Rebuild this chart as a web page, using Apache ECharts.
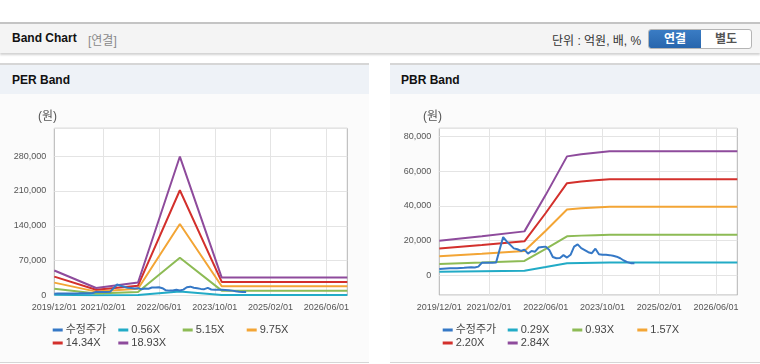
<!DOCTYPE html>
<html>
<head>
<meta charset="utf-8">
<script src="https://cdn.jsdelivr.net/npm/echarts@6/dist/echarts.min.js"></script>
<style>
  html,body{margin:0;padding:0;background:#fff;width:760px;height:364px;overflow:hidden;
    font-family:'Liberation Sans','Noto Sans CJK KR',Arial,sans-serif;}
  .hdr{position:absolute;left:0;top:22px;width:760px;height:29px;background:#f4f4f4;
    border-top:2px solid #c4c4c4;box-shadow:0 2px 2px rgba(0,0,0,0.18);}
  .hdr .t{position:absolute;left:12px;top:7px;font-size:12px;font-weight:bold;color:#111;}
  .hdr .s{position:absolute;left:88px;top:7px;font-size:12px;color:#8a8a8a;}
  .hdr .u{position:absolute;left:552px;top:7px;font-size:12px;color:#333;}
  .btns{position:absolute;left:648px;top:5px;width:102px;height:18px;border:1px solid #b5b5b5;border-radius:3px;overflow:hidden;background:#fff;}
  .btns .b1{position:absolute;left:0;top:0;width:52px;height:18px;background:linear-gradient(#3a7cc4,#2866ad);color:#fff;font-weight:bold;font-size:12px;text-align:center;line-height:18px;}
  .btns .b2{position:absolute;left:52px;top:0;width:50px;height:18px;color:#555;font-weight:bold;font-size:12px;text-align:center;line-height:18px;}
  .panel{position:absolute;top:63px;height:297px;background:#fbfbfb;border-top:2px solid #d6d6d6;border-bottom:1px solid #d6d6d6;}
  .panel .bar{position:absolute;left:0;top:0;right:0;height:29px;background:#eef2f7;}
  .panel .bar span{position:absolute;left:12px;top:8px;font-size:12px;font-weight:bold;color:#111;}
  #chart{position:absolute;left:0;top:0;width:760px;height:364px;}
</style>
</head>
<body>
<div class="hdr">
  <div class="t">Band Chart</div><div class="s">[연결]</div>
  <div class="u">단위 : 억원, 배, %</div>
  <div class="btns"><div class="b1">연결</div><div class="b2">별도</div></div>
</div>
<div class="panel" style="left:0;width:369px;"><div class="bar"><span>PER Band</span></div></div>
<div class="panel" style="left:390px;width:370px;"><div class="bar"><span style="left:11px">PBR Band</span></div></div>
<div id="chart"></div>
<script>
// x-axis: monthly categories 2019/12 .. 2026/12
const startYear = 2019, startMonth = 12, monthCount = 85;
const categories = [];
for (let i = 0; i < monthCount; i++) {
  const m = startMonth - 1 + i;
  const y = startYear + Math.floor(m / 12);
  const mm = (m % 12) + 1;
  categories.push(y + '/' + (mm < 10 ? '0' + mm : mm) + '/01');
}
const xLabelDates = ['2019/12/01','2021/02/01','2022/06/01','2023/10/01','2025/02/01','2026/06/01'];

// 수정주가 (monthly, 2019/12 .. 2024/07)
const stockPrice = [3600,3800,3900,4000,4000,4100,4200,4300,4500,4700,4500,5000,7200,7200,7200,7200,7300,14700,22000,19500,
  17500,15500,15000,14000,14800,12500,14000,13600,16000,16300,16500,14600,10500,9800,10000,11600,10200,11800,16500,17800,
  15600,14500,13300,12700,15300,12100,11800,11800,11600,11200,10700,9800,8500,7600,7000,6900];

// PER band
const perDates = ['2019/12/01','2020/12/01','2021/12/01','2022/12/01','2023/12/01','2026/12/01'];
const perNames = ['0.56X','5.15X','9.75X','14.34X','18.93X'];
const per056  = [1484, 448, 773, 8260, 1064, 1064];
const per515  = [13648, 4120, 7107, 75963, 9785, 9785];
const per975  = [25838, 7800, 13455, 143813, 18525, 18525];
const per1434 = [38001, 11472, 19789, 211515, 27246, 27246];
const per1893 = [50165, 15144, 26123, 279218, 35967, 35967];
const perYTicks = [0, 70000, 140000, 210000, 280000];

// PBR band
const pbrDates = ['2019/12/01','2020/12/01','2021/12/01','2022/06/01','2022/12/01','2023/04/01','2023/08/01','2023/12/01','2026/12/01'];
const pbrNames = ['0.29X','0.93X','1.57X','2.20X','2.84X'];
const pbr029 = [2024, 2291, 2581, 4727, 6989, 7120, 7207, 7294, 7294];
const pbr093 = [6491, 7347, 8277, 15159, 22413, 22832, 23111, 23390, 23390];
const pbr157 = [10959, 12403, 13973, 25591, 37837, 38544, 39015, 39486, 39486];
const pbr220 = [15356, 17380, 19580, 35860, 53020, 54010, 54670, 55330, 55330];
const pbr284 = [19823, 22436, 25276, 46292, 68444, 69722, 70574, 71426, 71426];
const pbrYTicks = [0, 20000, 40000, 60000, 80000];

const colors = {price:'#3578c6', b1:'#22abc6', b2:'#8dbb55', b3:'#f3a535', b4:'#d3302c', b5:'#8e4b9c'};
const FONT = "'Liberation Sans','Noto Sans CJK KR',Arial,sans-serif";

const labelIdx = xLabelDates.map(d => categories.indexOf(d));
const showAt = (i) => labelIdx.indexOf(i) >= 0;

function xAxis(gi) {
  return {
    type:'category', gridIndex:gi, data:categories, boundaryGap:false,
    axisLine:{show:false}, axisTick:{show:false},
    axisLabel:{interval:(i)=>showAt(i), color:'#555', fontSize:9, fontFamily:FONT, margin:8},
    splitLine:{show:true, interval:(i)=>showAt(i) && i>0, lineStyle:{color:'#e4e4e4', width:1}}
  };
}
function fmt(v){ return v.toLocaleString('en-US'); }

const pairs = (dates, vals) => dates.map((d, i) => [d, vals[i]]);
function band(name, gi, dates, vals, color) {
  return {name, type:'line', xAxisIndex:gi, yAxisIndex:gi, data:pairs(dates, vals), showSymbol:false, symbol:'none',
    lineStyle:{color, width:2}, itemStyle:{color}, emphasis:{disabled:true}, animation:false};
}
const priceData = stockPrice.map((v, i) => [categories[i], v]);

function legend(name, left, top) {
  return {data:[name], left, top, padding:0, itemGap:0, icon:'rect', itemWidth:10, itemHeight:3,
    textStyle:{fontSize:11, color:'#444', fontFamily:FONT, padding:[0,0,0,-2]}, selectedMode:false};
}

const chart = echarts.init(document.getElementById('chart'), null, {renderer:'canvas'});
chart.setOption({
  animation:false,
  backgroundColor:'transparent',
  grid:[
    {left:54.3, top:128.3, width:293, height:167.2, show:true, borderColor:'#b3b3b3', borderWidth:1, backgroundColor:'#fff'},
    {left:439.3, top:128.3, width:298, height:166.7, show:true, borderColor:'#b3b3b3', borderWidth:1, backgroundColor:'#fff'}
  ],
  xAxis:[xAxis(0), xAxis(1)],
  yAxis:[
    {type:'value', gridIndex:0, min:0, max:336000, interval:70000,
      axisLine:{show:false}, axisTick:{show:false},
      axisLabel:{color:'#555', fontSize:9, fontFamily:FONT, margin:8,
        formatter:(v)=> perYTicks.indexOf(v) >= 0 ? fmt(v) : ''},
      splitLine:{lineStyle:{color:'#e4e4e4'}}},
    {type:'value', gridIndex:1, min:-11340, max:84600,
      axisLine:{show:false}, axisTick:{show:false},
      axisLabel:{color:'#555', fontSize:9, fontFamily:FONT, margin:8,
        formatter:(v)=> pbrYTicks.indexOf(v) >= 0 ? fmt(v) : ''},
      splitLine:{lineStyle:{color:'#e4e4e4'}}}
  ],
  graphic:[
    {type:'text', left:38, top:111, style:{text:'(원)', fontSize:12, fill:'#555', fontFamily:FONT}},
    {type:'text', left:423, top:111, style:{text:'(원)', fontSize:12, fill:'#555', fontFamily:FONT}}
  ],
  legend:[
    legend('수정주가', 52.7, 324.5), legend('0.56X', 118.3, 324.5), legend('5.15X', 182.7, 324.5), legend('9.75X', 246.7, 324.5),
    legend('14.34X', 52.7, 337.5), legend('18.93X', 118.3, 337.5),
    legend('수정주가', 442.7, 324.5), legend('0.29X', 507.7, 324.5), legend('0.93X', 572.3, 324.5), legend('1.57X', 637.3, 324.5),
    legend('2.20X', 442.7, 337.5), legend('2.84X', 507.7, 337.5)
  ],
  series:[
    band(perNames[0], 0, perDates, per056, colors.b1),
    band(perNames[1], 0, perDates, per515, colors.b2),
    band(perNames[2], 0, perDates, per975, colors.b3),
    band(perNames[3], 0, perDates, per1434, colors.b4),
    band(perNames[4], 0, perDates, per1893, colors.b5),
    {name:'수정주가', type:'line', xAxisIndex:0, yAxisIndex:0, data:priceData, showSymbol:false, symbol:'none',
      lineStyle:{color:colors.price, width:2}, itemStyle:{color:colors.price}},
    band(pbrNames[0], 1, pbrDates, pbr029, colors.b1),
    band(pbrNames[1], 1, pbrDates, pbr093, colors.b2),
    band(pbrNames[2], 1, pbrDates, pbr157, colors.b3),
    band(pbrNames[3], 1, pbrDates, pbr220, colors.b4),
    band(pbrNames[4], 1, pbrDates, pbr284, colors.b5),
    {name:'수정주가', type:'line', xAxisIndex:1, yAxisIndex:1, data:priceData, showSymbol:false, symbol:'none',
      lineStyle:{color:colors.price, width:2}, itemStyle:{color:colors.price}}
  ]
});
</script>
</body>
</html>
